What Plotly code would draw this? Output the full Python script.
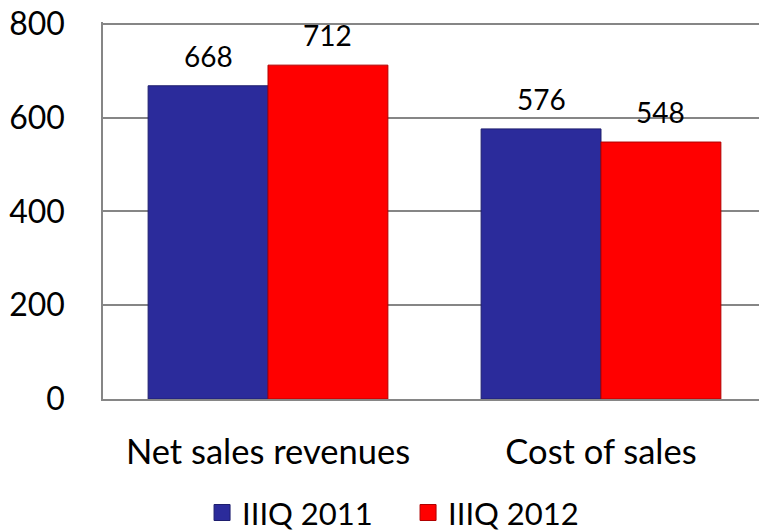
import plotly.graph_objects as go

categories = ["Net sales revenues", "Cost of sales"]
series_names = ["IIIQ 2011", "IIIQ 2012"]
values_2011 = [668, 576]
values_2012 = [712, 548]
y_ticks = [0, 200, 400, 600, 800]

colors = ["#2B2B9B", "#FF0000"]
edge_colors = ["#1E1E6E", "#B00000"]
FONT = "Lato"

fig = go.Figure()
all_values = [values_2011, values_2012]
for name, vals, c, ec in zip(series_names, all_values, colors, edge_colors):
    fig.add_trace(go.Bar(
        x=categories, y=vals, name=name, showlegend=False,
        marker=dict(color=c, line=dict(color=ec, width=1)),
    ))
    fig.add_trace(go.Scatter(
        x=[None], y=[None], mode="markers", name=name,
        marker=dict(symbol="square", size=22, color=c,
                    line=dict(color=ec, width=1)),
    ))

bargap = 0.28
bar_w = (1 - bargap) / 2
for s, vals in enumerate(all_values):
    off = (s - 0.5) * bar_w
    for i, v in enumerate(vals):
        fig.add_annotation(x=i + off, y=v, text=str(v), showarrow=False,
                           yanchor="middle", yshift=30,
                           font=dict(family=FONT, size=28, color="black"))

fig.update_layout(
    width=759, height=531,
    margin=dict(l=103, r=0, t=22, b=132, autoexpand=False),
    paper_bgcolor="white", plot_bgcolor="white",
    barmode="group", bargap=bargap, bargroupgap=0,
    font=dict(family=FONT, color="black"),
    legend=dict(orientation="h", x=0.151, xanchor="left",
                y=-0.302, yanchor="middle",
                font=dict(family=FONT, size=31), entrywidth=161,
                itemsizing="trace"),
    xaxis=dict(range=[-0.4955, 1.4745], showline=True, linecolor="#868686",
               linewidth=1.5, ticks="", tickfont=dict(family=FONT, size=34.5),
               ticklabelstandoff=22, automargin=False),
    yaxis=dict(range=[0, 804], tickvals=y_ticks, showline=True,
               linecolor="#868686", linewidth=1.5, showgrid=True,
               gridcolor="#868686", gridwidth=1.5, zeroline=False, ticks="",
               tickfont=dict(family=FONT, size=32), ticklabelstandoff=30,
               automargin=False),
)

fig.write_html(
    "out.html",
    config={"displayModeBar": False},
    post_script="document.body.style.margin='0';document.body.style.overflow='hidden';",
)
